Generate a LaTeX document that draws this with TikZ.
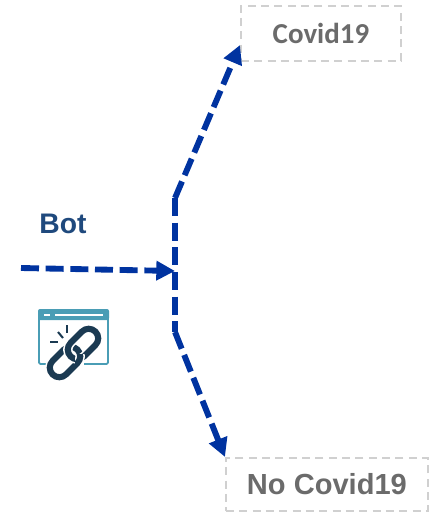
\documentclass[tikz,border=0pt]{standalone}
\usepackage{fontspec}
\setmainfont{Liberation Sans}
\newfontfamily\calib{Carlito}
\usetikzlibrary{arrows.meta}
\definecolor{flow}{HTML}{0033A0}
\definecolor{boxgray}{HTML}{D0D0D0}
\definecolor{txtgray}{HTML}{6B6B6B}
\definecolor{botblue}{HTML}{1F497D}
\definecolor{teal}{HTML}{4A9DB5}
\definecolor{navy}{HTML}{1B3A52}
\tikzset{
  px/.style={x=0.75pt,y=-0.75pt},
  lblbox/.style={draw=boxgray,line width=1.4pt,dash pattern=on 6pt off 4pt,inner sep=0pt,anchor=north west,font=\bfseries,text=txtgray},
  flowline/.style={draw=flow,line width=4.4pt,dash pattern=on 13.5pt off 5pt},
  flowarrow/.style={flowline,-{Triangle[length=14pt,width=14pt]}},
  linkring/.style={draw=navy,line width=4.6pt,rounded corners=7pt},
  linkhalo/.style={draw=white,line width=7pt,rounded corners=7pt},
  spark/.style={draw=navy,line width=1.5pt}
}
\begin{document}
\begin{tikzpicture}[px]
\useasboundingbox (0,0) rectangle (436,512);
% label boxes
\node[lblbox,minimum width=120pt,minimum height=41pt,font=\calib\bfseries\fontsize{21.7}{24}\selectfont] (covid) at (240,5) {Covid19};
\node[lblbox,minimum width=151.5pt,minimum height=40pt,font=\bfseries\fontsize{21.8}{24}\selectfont] (nocovid) at (225,457) {No Covid19};
% bot label
\node[font=\bfseries\fontsize{21.2}{24}\selectfont,text=botblue,inner sep=0pt] (bot) at (63,224) {Bot};
% junction points
\coordinate (start) at (21,268);
\coordinate (merge) at (175,271);
\coordinate (top) at (175,198);
\coordinate (bottom) at (175,332);
\coordinate (covidin) at (covid.west |- 0,45);
\coordinate (nocovidin) at (nocovid.north west);
% connectors
\draw[flowline] (top) -- (bottom);
\draw[flowarrow] (start) -- (merge);
\draw[flowarrow] (top) -- (covidin);
\draw[flowarrow] (bottom) -- (nocovidin);
% icon: window
\draw[teal,line width=1.4pt,rounded corners=1pt] (39,312) -- (39,364) -- (50,364);
\draw[teal,line width=1.4pt,rounded corners=1pt] (108,312) -- (108,364) -- (84,364);
\fill[teal,rounded corners=1.5pt] (38,309) rectangle (109,320);
\fill[white] (44,313.5) rectangle (50,315.5);
\fill[white] (55,313.5) rectangle (103,315.5);
% icon: spark
\draw[spark] (67,325) -- (67,333);
\draw[spark] (58,332) -- (63,338);
\draw[spark] (50,341.5) -- (58,341.5);
% icon: chain
\begin{scope}[shift={(65,362)},rotate=45]
\draw[linkhalo] (-17.5,-9.5) rectangle (17.5,9.5);
\draw[linkring] (-17.5,-9.5) rectangle (17.5,9.5);
\end{scope}
\begin{scope}[shift={(83,344)},rotate=45]
\draw[linkhalo] (-17.5,-9.5) rectangle (17.5,9.5);
\draw[linkring] (-17.5,-9.5) rectangle (17.5,9.5);
\end{scope}
\begin{scope}
\clip (75,354) rectangle (92,372);
\begin{scope}[shift={(65,362)},rotate=45]
\draw[linkhalo] (-17.5,-9.5) rectangle (17.5,9.5);
\draw[linkring] (-17.5,-9.5) rectangle (17.5,9.5);
\end{scope}
\end{scope}
\end{tikzpicture}
\end{document}
